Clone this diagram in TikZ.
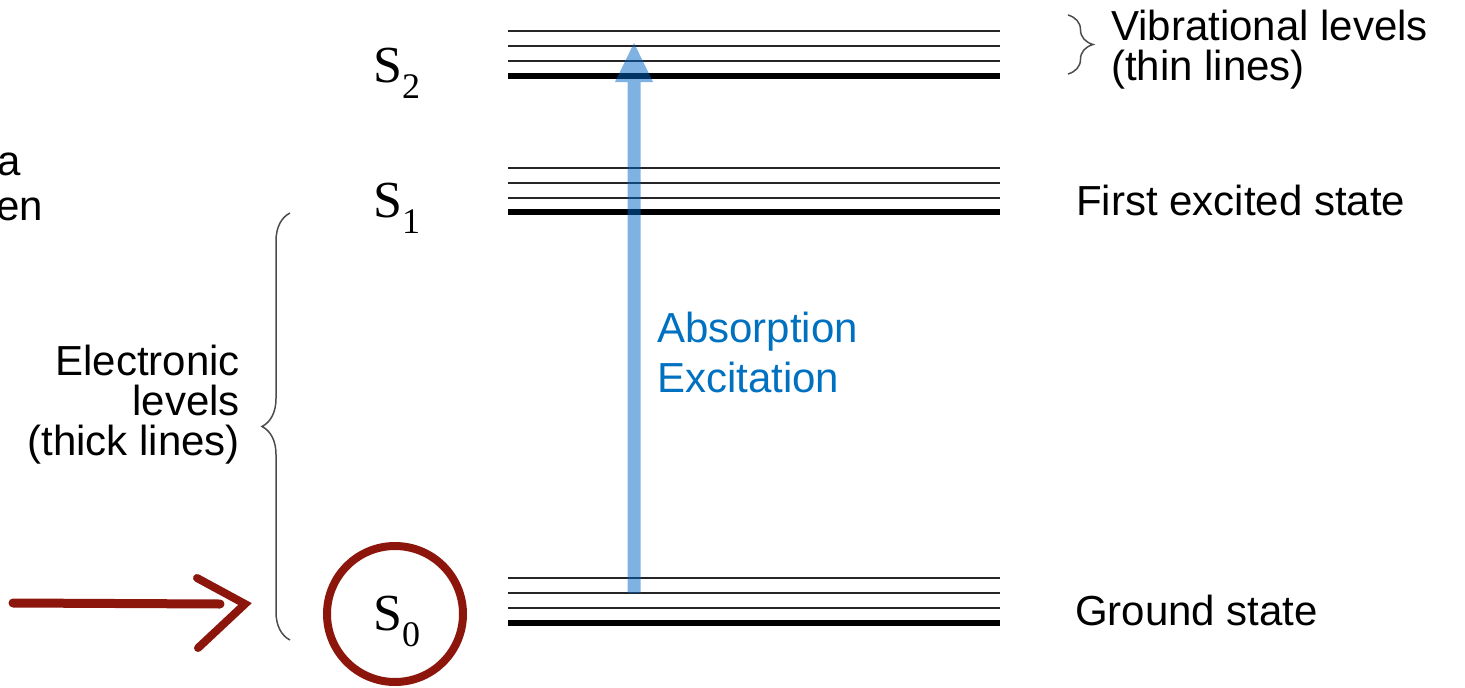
\documentclass[tikz,border=0pt]{standalone}
\usepackage{fontspec}
\setmainfont{Liberation Serif}
\newfontfamily\arialf{Liberation Sans}
\usetikzlibrary{calc,decorations.pathreplacing}
\definecolor{darkred}{RGB}{140,22,12}
\definecolor{absblue}{RGB}{0,100,200}
\definecolor{txtblue}{RGB}{0,112,192}
\tikzset{
  thinlevel/.style={line width=2.4pt, black!85},
  thicklevel/.style={line width=6pt, black},
  lbl/.style={font=\arialf\fontsize{42}{40}\selectfont, inner sep=0pt},
  slbl/.style={font=\fontsize{52}{52}\selectfont, inner sep=0pt, anchor=base west},
  bracestyle/.style={decorate, black!70, line width=1.5pt},
}
\newcommand{\subsc}[1]{\raisebox{-16pt}{\fontsize{36}{36}\selectfont #1}}
\begin{document}
\begin{tikzpicture}[x=1pt,y=-1pt]
\useasboundingbox (0,0) rectangle (1465,688);
% levels
\foreach \y in {31,46,61,168,183,198,578,593,608}
  \draw[thinlevel] (508,\y) -- (1000,\y);
\foreach \y in {76,212,623}
  \draw[thicklevel] (508,\y) -- (1000,\y);
% absorption arrow
\coordinate (absStart) at (634,593);
\coordinate (absEnd) at (634,43);
\fill[absblue, fill opacity=0.5]
  ($(absStart)+(-6.5,0)$) -- ($(absEnd)+(-6.5,39)$) -- ($(absEnd)+(-19,39)$) --
  (absEnd) -- ($(absEnd)+(19,39)$) -- ($(absEnd)+(6.5,39)$) -- ($(absStart)+(6.5,0)$) -- cycle;
% S labels
\node[slbl] (s2) at (373,82) {S\subsc{2}};
\node[slbl] (s1) at (373,217) {S\subsc{1}};
\node[slbl] (s0) at (373,630) {S\subsc{0}};
% circle
\node[draw=darkred, line width=8pt, circle, minimum size=136pt, inner sep=0pt] (ring) at (395,614) {};
% red arrow
\coordinate (rstart) at (13,603);
\coordinate (rtip) at (245,604);
\draw[darkred, line width=9pt, line cap=round] (rstart) -- ($(rtip)+(-25,0)$);
\draw[darkred, line width=8pt, line cap=round] ($(rtip)+(-48,-26)$) -- (rtip) -- ($(rtip)+(-47,44)$);
% braces
\draw[bracestyle, decoration={brace, amplitude=28pt}] (290,640) -- (290,213);
\draw[bracestyle, decoration={brace, amplitude=25pt}] (1068,15) -- (1068,74);
% texts
\node[lbl, anchor=base east, align=right] (elec) at (240,455) {Electronic\\levels\\(thick lines)};
\node[lbl, anchor=base west, align=left] (vib) at (1111,80) {Vibrational levels\\(thin lines)};
\node[lbl, anchor=base west] (first) at (1076,215) {First excited state};
\node[lbl, anchor=base west] (ground) at (1075,625) {Ground state};
\node[lbl, anchor=base west, align=left, text=txtblue, font=\arialf\fontsize{42}{50}\selectfont] (abs) at (657,392) {Absorption\\Excitation};
\node[lbl, anchor=base east] (ta) at (21,175) {a};
\node[lbl, anchor=base east] (ten) at (43,220) {en};
\end{tikzpicture}
\end{document}
